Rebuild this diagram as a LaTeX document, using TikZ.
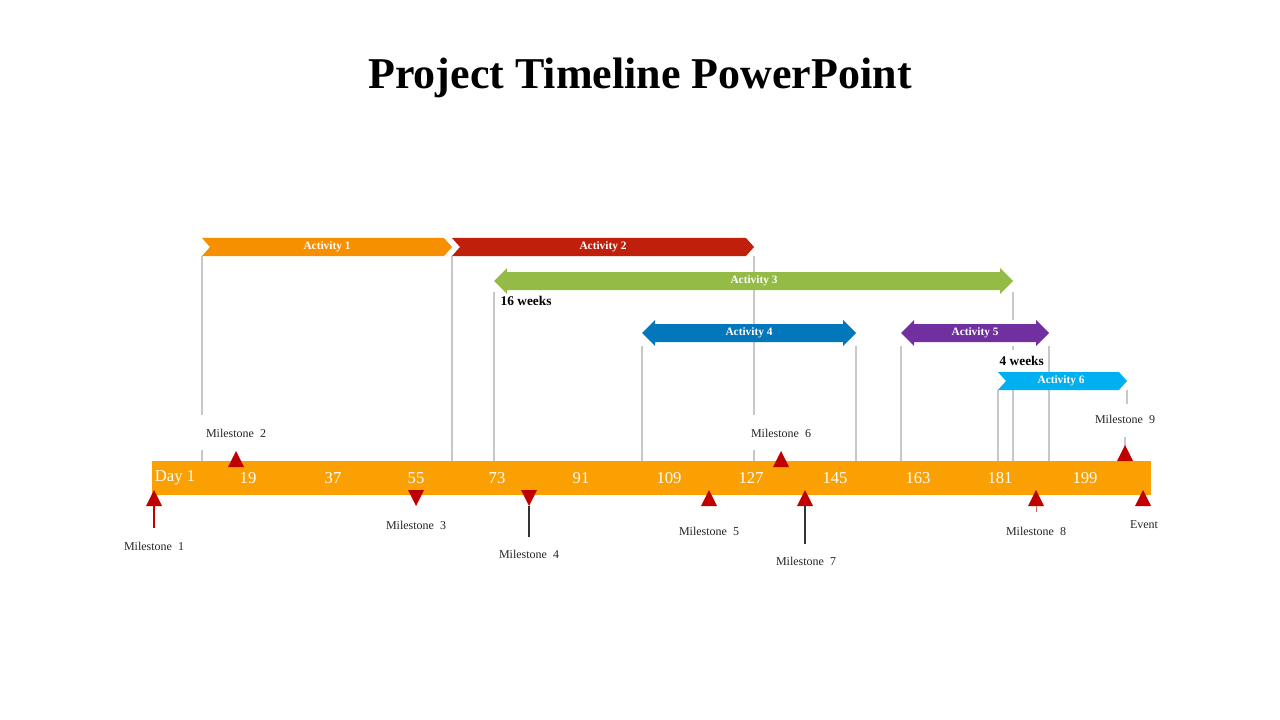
\documentclass[tikz,border=0pt]{standalone}
\usepackage{fontspec}
\setmainfont{Liberation Serif}
\definecolor{barO}{HTML}{FBA003}
\definecolor{a1}{HTML}{F79000}
\definecolor{a2}{HTML}{C01F0B}
\definecolor{a3}{HTML}{95BB47}
\definecolor{a4}{HTML}{0277BB}
\definecolor{a5}{HTML}{7030A0}
\definecolor{a6}{HTML}{00B0F0}
\definecolor{mred}{HTML}{C00000}
\definecolor{gl}{HTML}{C8C8C8}
\begin{document}
\begin{tikzpicture}[x=0.75pt,y=-0.75pt,
  grid/.style={draw=gl,line width=0.8pt},
  actl/.style={text=white,font=\bfseries\fontsize{8.5}{10}\selectfont},
  mlab/.style={text=black!85,font=\fontsize{9}{11}\selectfont},
  num/.style={text=white,font=\fontsize{12.5}{14}\selectfont},
  wk/.style={font=\bfseries\fontsize{10}{12}\selectfont,anchor=west}]
\useasboundingbox[fill=white] (0,0) rectangle (1280,720);
\node[font=\bfseries\fontsize{33}{38}\selectfont] (title) at (640,78) {Project Timeline PowerPoint};
% grid lines
\draw[grid] (202,256)--(202,415) (202,450)--(202,461);
\draw[grid] (452,256)--(452,461);
\draw[grid] (494,292)--(494,461);
\draw[grid] (754,256)--(754,415) (754,450)--(754,461);
\draw[grid] (642,346)--(642,461) (856,346)--(856,461) (901,346)--(901,461);
\draw[grid] (1013,292)--(1013,320) (1013,346)--(1013,350) (1013,390)--(1013,461);
\draw[grid] (998,390)--(998,461) (1049,346)--(1049,461);
\draw[grid] (1127,390)--(1127,404) (1125,437)--(1125,447);
% bar
\fill[barO] (152,461) rectangle (1151,495);
\foreach \x/\t in {175/Day 1,248/19,333/37,416/55,497/73,581/91,669/109,751/127,835/145,918/163,1000/181,1085/199}
  \node[num] at (\x,478) {\t};
% chevrons
\newcommand\chev[5]{\fill[#5] (#1,#3)--(#2-8,#3)--(#2,{(#3+#4)/2})--(#2-8,#4)--(#1,#4)--(#1+8,{(#3+#4)/2})--cycle;}
\chev{202}{452}{238}{256}{a1}
\chev{452}{754}{238}{256}{a2}
\chev{998}{1127}{372}{390}{a6}
\newcommand\dbl[5]{\fill[#5] (#1,{(#3+#4)/2})--(#1+13,#3)--(#1+13,#3+4)--(#2-13,#3+4)--(#2-13,#3)--(#2,{(#3+#4)/2})--(#2-13,#4)--(#2-13,#4-4)--(#1+13,#4-4)--(#1+13,#4)--cycle;}
\dbl{494}{1013}{268}{294}{a3}
\dbl{642}{856}{320}{346}{a4}
\dbl{901}{1049}{320}{346}{a5}
\node[actl] (act1) at (327,247) {Activity 1};
\node[actl] (act2) at (603,247) {Activity 2};
\node[actl] (act3) at (754,281) {Activity 3};
\node[actl] (act4) at (749,333) {Activity 4};
\node[actl] (act5) at (975,333) {Activity 5};
\node[actl] (act6) at (1061,381) {Activity 6};
\node[wk] (w16) at (496,301) {16 weeks};
\node[wk] (w4) at (995,361) {4 weeks};
% milestones
\newcommand\tup[3]{\fill[mred] (#1-8,#2+16)--(#1,#2)--(#1+8,#2+16)--cycle;}
\newcommand\tdn[3]{\fill[mred] (#1-8,#2)--(#1,#2+16)--(#1+8,#2)--cycle;}
\tup{154}{490}{} \draw[mred,line width=0.8pt] (154,506)--(154,528);
\tup{236}{451}{}
\tdn{416}{490}{}
\tdn{529}{490}{} \draw[black!80,line width=0.8pt] (529,506)--(529,537);
\tup{709}{490}{}
\tup{781}{451}{}
\tup{805}{490}{} \draw[black!80,line width=0.8pt] (805,506)--(805,544);
\tup{1036}{490}{} \draw[mred!60,line width=0.6pt] (1036,506)--(1036,512);
\tup{1125}{445}{}
\tup{1143}{490}{}
\node[mlab] (m1) at (154,546) {Milestone\ \ 1};
\node[mlab] (m2) at (236,433) {Milestone\ \ 2};
\node[mlab] (m3) at (416,525) {Milestone\ \ 3};
\node[mlab] (m4) at (529,554) {Milestone\ \ 4};
\node[mlab] (m5) at (709,531) {Milestone\ \ 5};
\node[mlab] (m6) at (781,433) {Milestone\ \ 6};
\node[mlab] (m7) at (806,561) {Milestone\ \ 7};
\node[mlab] (m8) at (1036,531) {Milestone\ \ 8};
\node[mlab] (m9) at (1125,419) {Milestone\ \ 9};
\node[mlab] (ev) at (1144,525) {Event};
\end{tikzpicture}
\end{document}
